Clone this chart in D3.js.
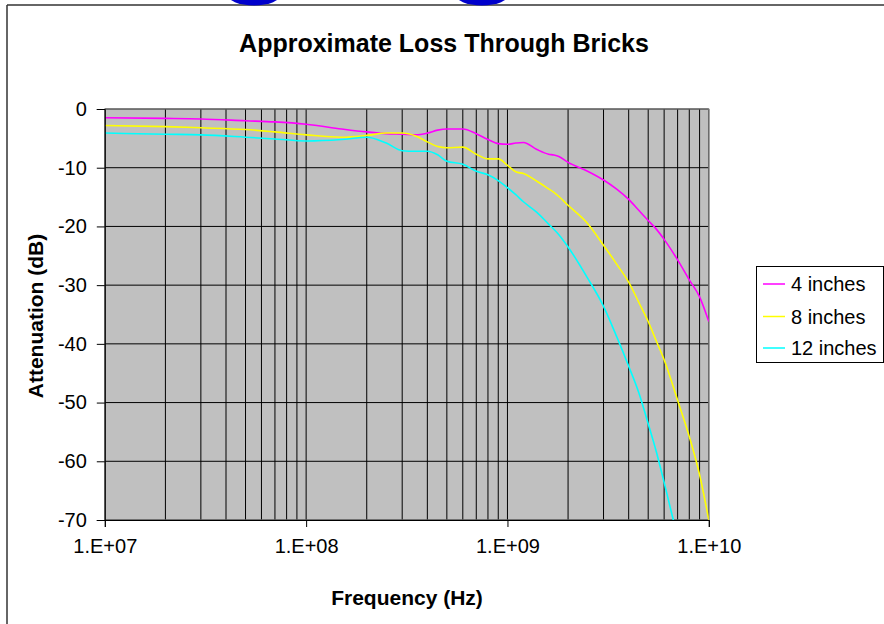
<!DOCTYPE html>
<html><head><meta charset="utf-8">
<script src="https://cdn.jsdelivr.net/npm/d3@7"></script>
<style>
html,body{margin:0;padding:0;background:#fff;overflow:hidden;}
svg{display:block;font-family:"Liberation Sans",Arial,sans-serif;}
</style></head>
<body>
<script>
const title = "Approximate Loss Through Bricks";
const xTitle = "Frequency (Hz)";
const yTitle = "Attenuation (dB)";
const seriesNames = ["4 inches", "8 inches", "12 inches"];
const seriesColors = ["#FF00FF", "#FFFF00", "#00FFFF"];
const xTickValues = [1e7, 1e8, 1e9, 1e10];
const xTickLabels = ["1.E+07", "1.E+08", "1.E+09", "1.E+10"];
const yTickValues = [0, -10, -20, -30, -40, -50, -60, -70];

const freq = [1e7, 2e7, 3e7, 5e7, 7e7, 1e8, 1.5e8, 2e8, 2.5e8, 3e8, 3.5e8, 4e8, 4.5e8, 5e8, 6e8, 7e8, 8e8, 9e8,
  1e9, 1.1e9, 1.2e9, 1.4e9, 1.6e9, 1.7e9, 1.8e9, 2e9, 2.5e9, 3e9, 3.5e9, 4e9, 4.5e9, 5e9, 5.5e9, 6e9, 7e9, 8e9, 9e9, 1e10];
const loss4 = [-1.5, -1.6, -1.7, -2.0, -2.2, -2.6, -3.4, -3.9, -4.2, -4.3, -4.4, -4.1, -3.6, -3.4, -3.4, -4.2, -5.2, -5.9,
  -6.0, -5.8, -5.7, -6.9, -7.7, -7.85, -8.1, -9.1, -10.6, -12.1, -13.7, -15.4, -17.3, -19.0, -20.5, -22.2, -25.7, -29.1, -32.0, -36.2];
const loss8 = [-2.8, -3.0, -3.2, -3.5, -3.9, -4.4, -4.8, -4.5, -4.1, -4.1, -4.6, -5.6, -6.4, -6.6, -6.5, -7.7, -8.5, -8.5,
  -9.6, -10.7, -11.0, -12.3, -13.6, -14.2, -14.9, -16.4, -19.5, -23.2, -26.5, -29.5, -33.0, -36.2, -39.6, -42.7, -49.6, -55.8, -62.3, -70.0];
const freq12 = [1e7, 2e7, 3e7, 5e7, 7e7, 1e8, 1.5e8, 2e8, 2.5e8, 3e8, 3.5e8, 4e8, 4.5e8, 5e8, 6e8, 7e8, 8e8, 9e8,
  1e9, 1.1e9, 1.2e9, 1.4e9, 1.6e9, 1.8e9, 2e9, 2.5e9, 3e9, 3.5e9, 4e9, 4.5e9, 5e9, 5.5e9, 6e9, 6.5e9, 6.7e9];
const loss12 = [-4.1, -4.3, -4.4, -4.8, -5.1, -5.45, -5.2, -4.8, -5.8, -7.1, -7.2, -7.2, -7.8, -8.9, -9.4, -10.6, -11.2, -12.2,
  -13.4, -14.6, -15.8, -17.6, -19.6, -21.4, -23.5, -28.8, -33.6, -38.9, -43.8, -48.4, -53.6, -58.5, -63.6, -68.5, -70.3];

const W = 884, H = 624;
const svg = d3.select("body").append("svg").attr("width", W).attr("height", H);

// outer chart frame
svg.append("line").attr("x1", 7).attr("y1", 5).attr("x2", W + 5).attr("y2", 5).attr("stroke", "#333").attr("stroke-width", 1.5);
svg.append("line").attr("x1", 7).attr("y1", 5).attr("x2", 7).attr("y2", H + 5).attr("stroke", "#333").attr("stroke-width", 1.5);
// blue shapes at the top edge
[254, 482].forEach(cx => svg.append("ellipse").attr("cx", cx).attr("cy", -6).attr("rx", 27).attr("ry", 11.5).attr("fill", "#0000CC"));

const plot = {left: 104.8, right: 708.8, top: 109, bottom: 520};
const x = d3.scaleLog().domain([1e7, 1e10]).range([plot.left, plot.right]);
const y = d3.scaleLinear().domain([-70, 0]).range([plot.bottom, plot.top]);

svg.append("rect").attr("x", plot.left).attr("y", plot.top).attr("width", plot.right - plot.left).attr("height", plot.bottom - plot.top)
  .attr("fill", "#C0C0C0");

// gridlines
const vGrid = [];
for (let d = 1e7; d < 1e10; d *= 10) for (let m = 1; m <= 9; m++) vGrid.push(d * m);
vGrid.push(1e10);
svg.append("g").selectAll("line").data(vGrid).join("line")
  .attr("x1", d => x(d)).attr("x2", d => x(d)).attr("y1", plot.top).attr("y2", plot.bottom)
  .attr("stroke", "#000").attr("stroke-width", 1);
svg.append("g").selectAll("line").data(yTickValues).join("line")
  .attr("x1", plot.left).attr("x2", plot.right).attr("y1", d => y(d)).attr("y2", d => y(d))
  .attr("stroke", "#000").attr("stroke-width", 1);

svg.append("rect").attr("x", plot.left).attr("y", plot.top).attr("width", plot.right - plot.left).attr("height", plot.bottom - plot.top)
  .attr("fill", "none").attr("stroke", "#808080").attr("stroke-width", 1);

// clip
svg.append("clipPath").attr("id", "clip").append("rect")
  .attr("x", plot.left).attr("y", plot.top).attr("width", plot.right - plot.left).attr("height", plot.bottom - plot.top);

const line = d3.line().x(d => x(d[0])).y(d => y(d[1])).curve(d3.curveMonotoneX);
const series = [d3.zip(freq, loss4), d3.zip(freq, loss8), d3.zip(freq12, loss12)];
svg.append("g").attr("clip-path", "url(#clip)").selectAll("path").data(series).join("path")
  .attr("d", line).attr("fill", "none").attr("stroke", (d, i) => seriesColors[i]).attr("stroke-width", 1.6);

// axes
const yAxis = d3.axisLeft(y).tickValues(yTickValues).tickSize(8).tickPadding(10).tickFormat(d => String(d));
const gy = svg.append("g").attr("transform", `translate(${plot.left},0)`).call(yAxis);
gy.select(".domain").attr("stroke", "#000");
gy.selectAll("text").attr("font-size", 20).attr("font-family", "Liberation Sans, Arial, sans-serif").attr("fill", "#000");

const xAxis = d3.axisBottom(x).tickValues(xTickValues).tickSize(7).tickPadding(12).tickFormat((d, i) => xTickLabels[i]);
const gx = svg.append("g").attr("transform", `translate(0,${plot.bottom})`).call(xAxis);
gx.select(".domain").attr("stroke", "#000");
gx.selectAll("text").attr("font-size", 20).attr("font-family", "Liberation Sans, Arial, sans-serif").attr("fill", "#000");

// titles
svg.append("text").attr("x", 444).attr("y", 52).attr("text-anchor", "middle").attr("font-weight", "bold")
  .attr("font-size", 25).text(title);
svg.append("text").attr("x", 407).attr("y", 605).attr("text-anchor", "middle").attr("font-weight", "bold")
  .attr("font-size", 21).text(xTitle);
svg.append("text").attr("transform", "translate(43,316) rotate(-90)").attr("text-anchor", "middle").attr("font-weight", "bold")
  .attr("font-size", 21).text(yTitle);

// legend
const lg = svg.append("g");
lg.append("rect").attr("x", 756.5).attr("y", 266.5).attr("width", 127).attr("height", 96).attr("fill", "#fff").attr("stroke", "#000");
const ly = [284, 316.5, 348];
seriesNames.forEach((n, i) => {
  lg.append("line").attr("x1", 763).attr("x2", 785).attr("y1", ly[i]).attr("y2", ly[i]).attr("stroke", seriesColors[i]).attr("stroke-width", 1.5);
  lg.append("text").attr("x", 791).attr("y", ly[i]).attr("dy", "0.35em").attr("font-size", 20).text(n);
});
</script>
</body></html>
